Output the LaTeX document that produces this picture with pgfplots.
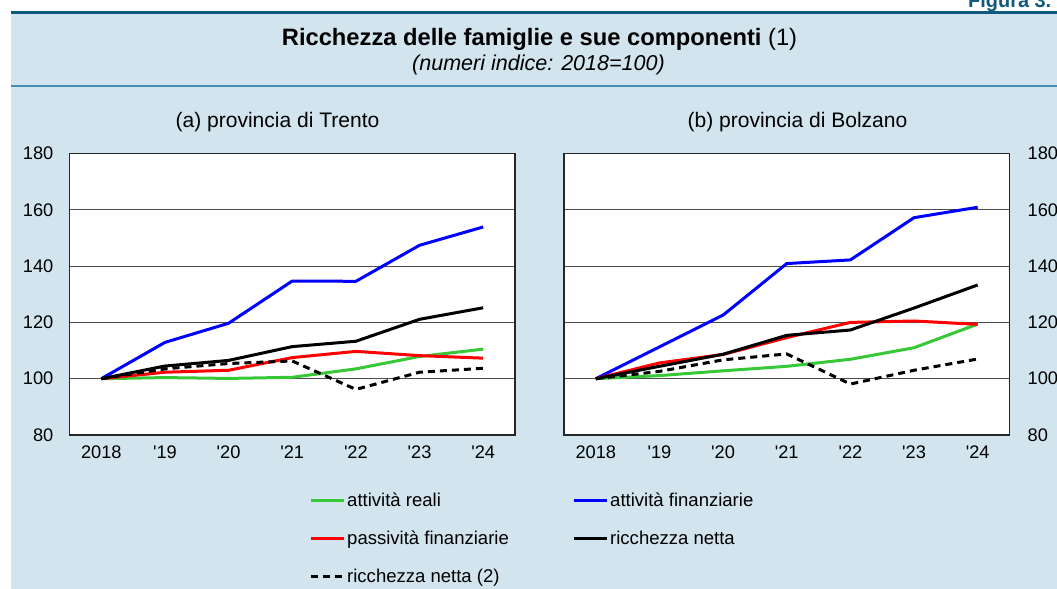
\documentclass[border=0pt]{standalone}
\usepackage{fontspec}
\setmainfont{Liberation Sans}
\usepackage{pgfplots}
\usepackage{pgfplotstable}
\pgfplotsset{compat=1.18}
\definecolor{panel}{RGB}{210,228,238}
\definecolor{topline}{RGB}{16,90,125}
\definecolor{sepline}{RGB}{70,140,175}
\definecolor{cgreen}{RGB}{55,200,55}
\definecolor{cblue}{RGB}{0,0,255}
\definecolor{cred}{RGB}{255,0,0}

\pgfplotstableread{
x green blue red black dashed
0 100   100   100   100   100
1 100.4 112.9 102.3 104.5 103.5
2 100.1 119.7 103.0 106.5 105.4
3 100.5 134.7 107.5 111.4 106.3
4 103.5 134.6 109.7 113.3 96.2
5 107.9 147.4 108.2 121.1 102.3
6 110.5 153.9 107.3 125.2 103.7
}\trento

\pgfplotstableread{
x green blue red black dashed
0 100   100   100   100   100
1 101.1 111.3 105.6 104.4 102.6
2 102.8 122.6 108.6 108.7 106.7
3 104.4 140.9 114.6 115.4 108.8
4 106.9 142.2 120.0 117.3 98.1
5 111.0 157.2 120.5 125.1 103.0
6 119.4 160.9 119.3 133.3 107.0
}\bolzano

\pgfplotsset{
 panelaxis/.style={
  scale only axis, width=445.5bp, height=281.5bp,
  xmin=-0.5, xmax=6.5, ymin=80, ymax=180,
  xtick={0,...,6},
  xticklabels={2018,\textquotesingle19,\textquotesingle20,\textquotesingle21,\textquotesingle22,\textquotesingle23,\textquotesingle24},
  ytick={80,100,...,180},
  ymajorgrids, major grid style={black!70, line width=0.8bp},
  major tick length=0pt,
  axis line style={black!85, line width=1.3bp},
  axis background/.style={fill=white},
  tick label style={font=\fontsize{18.3}{22}\selectfont, inner sep=0pt},
  /pgf/number format/assume math mode=true,
  xticklabel style={yshift=-11bp},
  every axis plot/.append style={line width=3bp, line join=round},
 },
}

\begin{document}
\begin{tikzpicture}
\useasboundingbox (0,0) rectangle (1057bp,-589bp);
\fill[panel] (11bp,-13bp) rectangle (1060bp,-592bp);
\draw[topline, line width=2.6bp] (11bp,-12.5bp) -- (1060bp,-12.5bp);
\draw[sepline, line width=2bp] (11bp,-86bp) -- (1060bp,-86bp);
\node[anchor=base west, inner sep=0pt, text=topline, font=\fontsize{20}{24}\selectfont\bfseries] at (968bp,-7.5bp) {Figura 3.};
\node[anchor=base, inner sep=0pt] at (539.5bp,-45bp) {\fontsize{23.8}{28}\selectfont\textbf{Ricchezza delle famiglie e sue componenti} (1)};
\node[anchor=base, inner sep=0pt] at (538.5bp,-70bp) {\fontsize{21.6}{26}\selectfont\itshape (numeri indice: 2018=100)};
\node[anchor=base, inner sep=0pt] at (277.5bp,-127bp) {\fontsize{21.1}{25}\selectfont (a) provincia di Trento};
\node[anchor=base, inner sep=0pt] at (797.5bp,-127bp) {\fontsize{21.1}{25}\selectfont (b) provincia di Bolzano};

\begin{axis}[panelaxis, at={(69.5bp,-435bp)}, anchor=south west,
  yticklabel style={xshift=-16bp},
  legend columns=2,
  legend style={at={(0.5376,-0.1659)}, anchor=north west, draw=none, fill=none,
    inner sep=0pt, font=\fontsize{18.6}{22}\selectfont,
    nodes={inner sep=0pt, minimum height=38bp},
    /tikz/every even column/.append style={column sep=0pt}},
  legend image code/.code={\draw[#1] (0bp,0bp) -- (33bp,0bp);},
]
\addplot[cgreen] table[x=x, y=green] {\trento};
\addlegendentry{\makebox[227bp][l]{\hspace{2bp}attività reali}}
\addplot[cblue] table[x=x, y=blue] {\trento};
\addlegendentry{\makebox[227bp][l]{\hspace{2bp}attività finanziarie}}
\addplot[cred] table[x=x, y=red] {\trento};
\addlegendentry{\makebox[227bp][l]{\hspace{2bp}passività finanziarie}}
\addplot[black] table[x=x, y=black] {\trento};
\addlegendentry{\makebox[227bp][l]{\hspace{2bp}ricchezza netta}}
\addplot[black, dash pattern=on 7bp off 5bp] table[x=x, y=dashed] {\trento};
\addlegendentry{\makebox[227bp][l]{\hspace{2bp}ricchezza netta (2)}}
\end{axis}

\begin{axis}[panelaxis, at={(564bp,-435bp)}, anchor=south west,
  yticklabel pos=right,
  yticklabel style={xshift=18bp},
]
\addplot[cgreen] table[x=x, y=green] {\bolzano};
\addplot[cblue] table[x=x, y=blue] {\bolzano};
\addplot[cred] table[x=x, y=red] {\bolzano};
\addplot[black] table[x=x, y=black] {\bolzano};
\addplot[black, dash pattern=on 7bp off 5bp] table[x=x, y=dashed] {\bolzano};
\end{axis}
\end{tikzpicture}
\end{document}
